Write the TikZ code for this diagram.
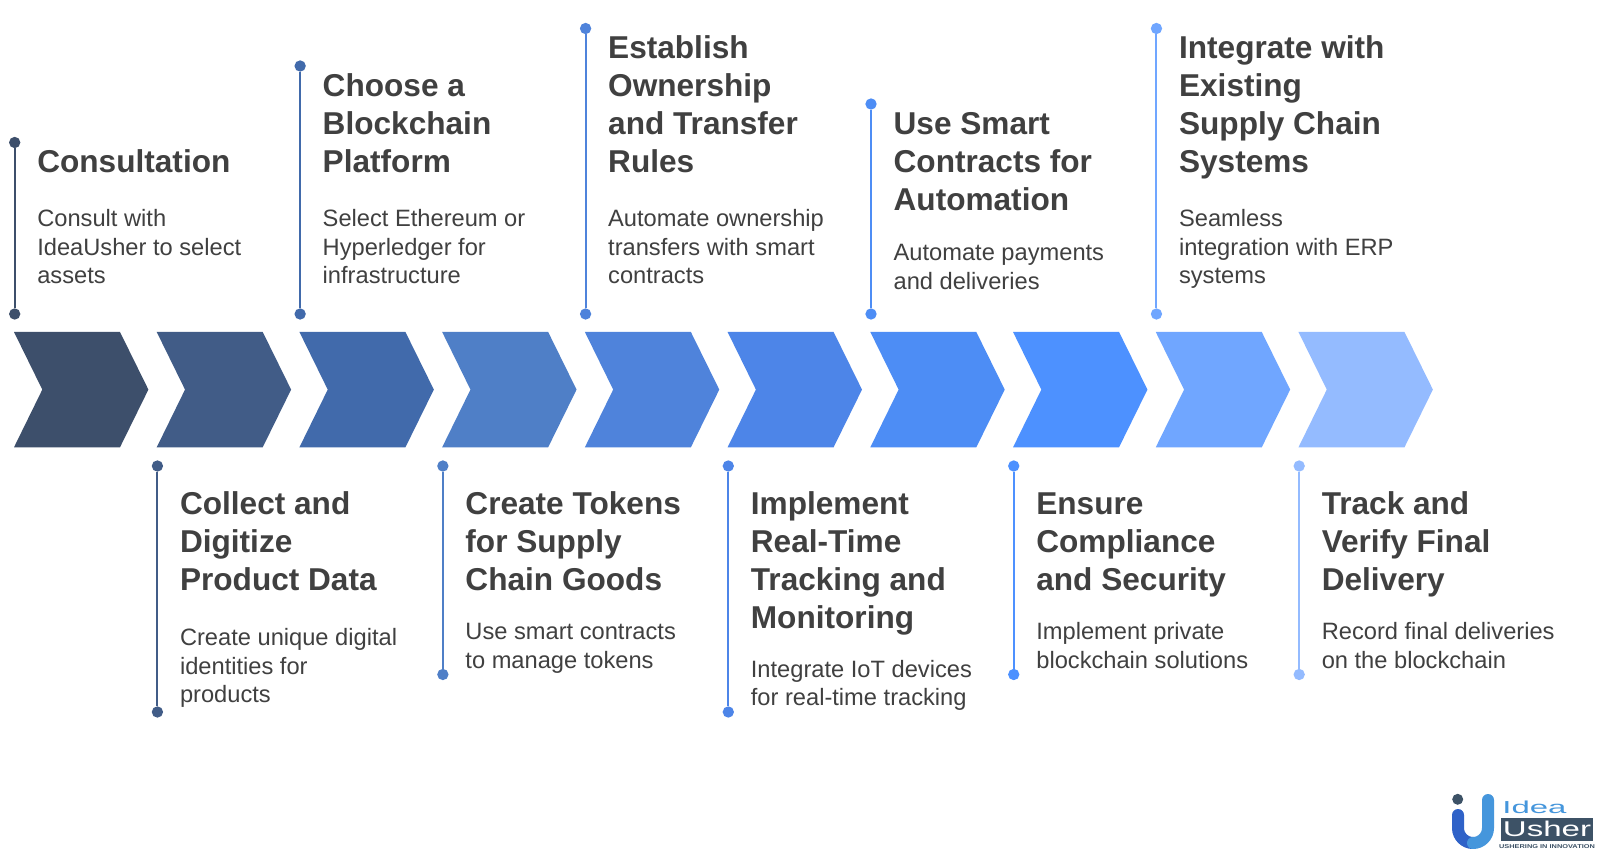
\documentclass[tikz,border=0pt]{standalone}
\usepackage{fontspec}
\setmainfont{Liberation Sans}
\definecolor{txt}{HTML}{404040}
\definecolor{c1}{HTML}{3D4F6B}
\definecolor{c2}{HTML}{415C87}
\definecolor{c3}{HTML}{416AAB}
\definecolor{c4}{HTML}{4F7FC7}
\definecolor{c5}{HTML}{4F83DB}
\definecolor{c6}{HTML}{4D85E8}
\definecolor{c7}{HTML}{4D8DF5}
\definecolor{c8}{HTML}{4D91FF}
\definecolor{c9}{HTML}{70A6FF}
\definecolor{c10}{HTML}{94BBFF}
\definecolor{logodark}{HTML}{3D5266}
\definecolor{logolight}{HTML}{4596DC}
\definecolor{logomid}{HTML}{2F62C8}
\tikzset{
  headtext/.style={anchor=north west,inner sep=0pt,outer sep=0pt,align=left,text=txt,
    font=\fontsize{23.7pt}{28.5pt}\selectfont\bfseries},
  bodytext/.style={anchor=north west,inner sep=0pt,outer sep=0pt,align=left,text=txt,
    font=\fontsize{17.75pt}{21.3pt}\selectfont},
  enddot/.style={circle,inner sep=0pt,outer sep=0pt,minimum size=8.5pt},
  stem/.style={line width=1.5pt},
}
% #1 index, #2 top of stem, #3 bottom of stem, #4 heading, #5 heading baseline, #6 body, #7 body baseline
\newcommand{\stepitem}[7]{%
  \pgfmathsetmacro{\xa}{14+142.72*(#1-1)}%
  \pgfmathsetmacro{\xb}{\xa+106}%
  \pgfmathsetmacro{\xc}{\xa+134.4}%
  \pgfmathsetmacro{\xd}{\xa+28.3}%
  \pgfmathsetmacro{\xl}{\xa+0.7}%
  \pgfmathsetmacro{\xt}{\xa+23.3}%
  \fill[c#1] (\xa,332) -- (\xb,332) -- (\xc,389.6) -- (\xb,447.3) -- (\xa,447.3) -- (\xd,389.6) -- cycle;
  \node[enddot,fill=c#1] (top#1) at (\xl,#2) {};
  \node[enddot,fill=c#1] (bot#1) at (\xl,#3) {};
  \draw[stem,c#1] (top#1) -- (bot#1);
  \node[headtext] (head#1) at (\xt,#5-31.6) {\rule{0pt}{1em}#4};
  \node[bodytext] (body#1) at (\xt,#7-23.67) {\rule{0pt}{1em}#6};
}
\begin{document}
\begin{tikzpicture}[x=0.75pt,y=-0.75pt]
\useasboundingbox (0,0) rectangle (1600,855);
\fill[white] (0,0) rectangle (1600,855);
\stepitem{1}{142.5}{314}{Consultation}{172.7}{Consult with\\IdeaUsher to select\\assets}{227}
\stepitem{2}{466}{712}{Collect and\\Digitize\\Product Data}{514}{Create unique digital\\identities for\\products}{645.7}
\stepitem{3}{66}{314}{Choose a\\Blockchain\\Platform}{96.5}{Select Ethereum or\\Hyperledger for\\infrastructure}{227}
\stepitem{4}{466}{674.5}{Create Tokens\\for Supply\\Chain Goods}{514}{Use smart contracts\\to manage tokens}{640}
\stepitem{5}{28.5}{314}{Establish\\Ownership\\and Transfer\\Rules}{58.5}{Automate ownership\\transfers with smart\\contracts}{227}
\stepitem{6}{466}{712}{Implement\\Real-Time\\Tracking and\\Monitoring}{514}{Integrate IoT devices\\for real-time tracking}{677.5}
\stepitem{7}{104}{314}{Use Smart\\Contracts for\\Automation}{134.5}{Automate payments\\and deliveries}{261}
\stepitem{8}{466}{674.5}{Ensure\\Compliance\\and Security}{514}{Implement private\\blockchain solutions}{640}
\stepitem{9}{28.5}{314}{Integrate with\\Existing\\Supply Chain\\Systems}{58.5}{Seamless\\integration with ERP\\systems}{227}
\stepitem{10}{466}{674.5}{Track and\\Verify Final\\Delivery}{514}{Record final deliveries\\on the blockchain}{640}
% logo
\draw[line width=9pt,line cap=round,color=logomid] (1458,815) -- (1458,828) arc (180:90:15);
\draw[line width=9pt,line cap=round,color=logolight] (1488,800) -- (1488,828) arc (0:90:15);
\fill[logodark] (1457.7,799.3) circle (5.5);
\fill[logodark] (1501,817.7) rectangle (1593,840.7);
\node[inner sep=0pt,text=logolight,font=\fontsize{13pt}{13pt}\selectfont,xscale=1.9,transform shape] (logoidea) at (1534.5,807.5) {Idea};
\node[inner sep=0pt,text=white,font=\fontsize{16pt}{16pt}\selectfont,xscale=1.55,transform shape] (logousher) at (1547,829) {Usher};
\node[inner sep=0pt,text=logodark,font=\fontsize{4.2pt}{4.2pt}\selectfont\bfseries,xscale=1.32,transform shape] (logotag) at (1547,846.7) {USHERING IN INNOVATION};
\end{tikzpicture}
\end{document}
